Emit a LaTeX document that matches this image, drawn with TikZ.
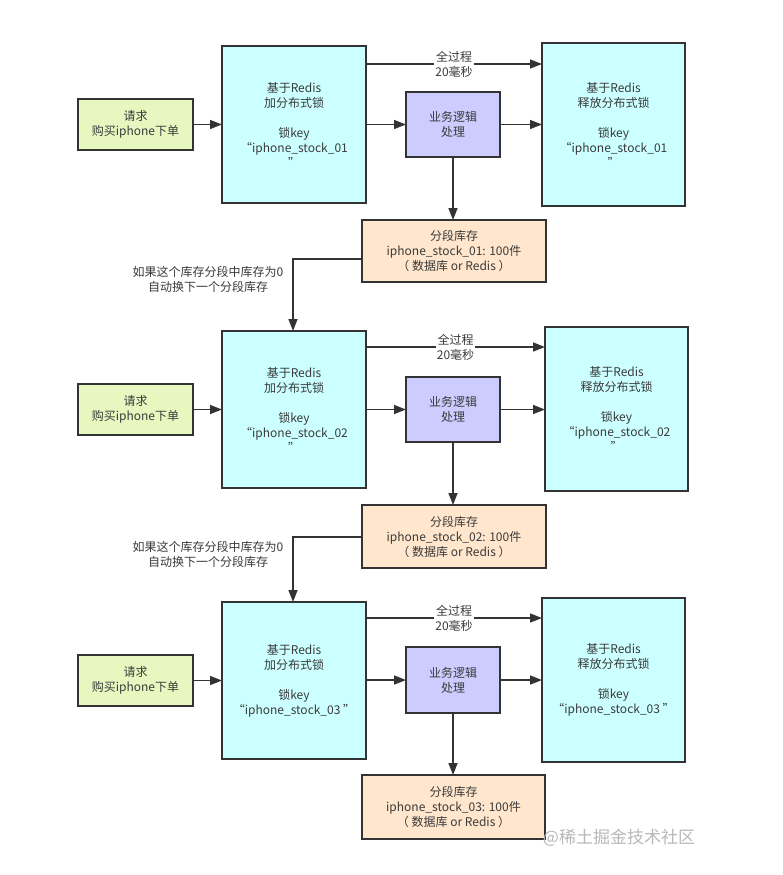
\documentclass[tikz,border=0pt]{standalone}
\usepackage{fontspec}
\setmainfont{Noto Sans CJK SC}
\usetikzlibrary{arrows.meta}
\definecolor{linec}{HTML}{333333}
\definecolor{txtc}{HTML}{3A3A3A}
\definecolor{reqc}{HTML}{E6F8C0}
\definecolor{lockc}{HTML}{CCFFFF}
\definecolor{bizc}{HTML}{CCCCFF}
\definecolor{stockc}{HTML}{FFE6CC}
\tikzset{
  box/.style={draw=linec, line width=1.6pt, inner sep=0pt, outer sep=0pt, align=center,
    text=txtc, font=\fontsize{12}{15}\selectfont},
  reqbox/.style={box, fill=reqc, minimum width=115pt, minimum height=51pt},
  lockbox/.style={box, fill=lockc, minimum width=144pt, minimum height=157pt},
  relbox/.style={box, fill=lockc, minimum width=143pt, minimum height=163pt},
  bizbox/.style={box, fill=bizc, minimum width=94pt, minimum height=65pt},
  stockbox/.style={box, fill=stockc, minimum width=184pt, minimum height=62pt},
  arr/.style={draw=linec, line width=1.6pt, -{Triangle[length=12pt,width=9pt]}},
  lbl/.style={text=txtc, font=\fontsize{12}{15}\selectfont, align=center, fill=white, inner sep=1pt},
  note/.style={text=txtc, font=\fontsize{12}{15}\selectfont, align=center, inner sep=0pt}
}
\begin{document}
\begin{tikzpicture}[x=1pt,y=-1pt]
\useasboundingbox[fill=white] (0,0) rectangle (783,875);

% ---------- block 1 ----------
\node[reqbox] (req1) at (135.5,124.5) {请求\\购买iphone下单};
\node[lockbox] (lock1) at (294,124.5) {基于Redis\\加分布式锁\\[15pt]锁key\\“iphone\_stock\_01\\”};
\node[bizbox] (biz1) at (453,124.5) {业务逻辑\\处理};
\node[relbox] (rel1) at (613.5,124.5) {基于Redis\\释放分布式锁\\[15pt]锁key\\“iphone\_stock\_01\\”};
\node[stockbox] (stock1) at (454,251) {分段库存\\iphone\_stock\_01: 100件\\（ 数据库 or Redis ）};
\coordinate (t1) at (0,64);
\draw[arr] (lock1.east |- t1) -- node[lbl] {全过程\\20毫秒} (rel1.west |- t1);
\draw[arr] (req1.east) -- (lock1.west);
\draw[arr] (lock1.east |- biz1.west) -- (biz1.west);
\draw[arr] (biz1.east) -- (rel1.west |- biz1.east);
\draw[arr] (biz1.south) -- (biz1.south |- stock1.north);

% ---------- block 2 ----------
\node[reqbox] (req2) at (135.5,409.5) {请求\\购买iphone下单};
\node[lockbox] (lock2) at (294,409.5) {基于Redis\\加分布式锁\\[15pt]锁key\\“iphone\_stock\_02\\”};
\node[bizbox] (biz2) at (453,409.5) {业务逻辑\\处理};
\node[relbox, minimum height=164pt] (rel2) at (616.5,409) {基于Redis\\释放分布式锁\\[15pt]锁key\\“iphone\_stock\_02\\”};
\node[stockbox, minimum height=63pt] (stock2) at (454,536.5) {分段库存\\iphone\_stock\_02: 100件\\（ 数据库 or Redis ）};
\coordinate (t2) at (0,347);
\draw[arr] (lock2.east |- t2) -- node[lbl] {全过程\\20毫秒} (rel2.west |- t2);
\draw[arr] (req2.east) -- (lock2.west);
\draw[arr] (lock2.east |- biz2.west) -- (biz2.west);
\draw[arr] (biz2.east) -- (rel2.west |- biz2.east);
\draw[arr] (biz2.south) -- (biz2.south |- stock2.north);

% ---------- block 3 ----------
\node[reqbox] (req3) at (135.5,680.5) {请求\\购买iphone下单};
\node[lockbox] (lock3) at (294,680.5) {基于Redis\\加分布式锁\\[15pt]锁key\\“iphone\_stock\_03 ”};
\node[bizbox, minimum height=66pt] (biz3) at (453,680) {业务逻辑\\处理};
\node[relbox, minimum height=164pt] (rel3) at (613.5,680) {基于Redis\\释放分布式锁\\[15pt]锁key\\“iphone\_stock\_03 ”};
\node[stockbox, minimum width=183pt, minimum height=64pt] (stock3) at (453.5,807) {分段库存\\iphone\_stock\_03: 100件\\（ 数据库 or Redis ）};
\coordinate (t3) at (0,618);
\draw[arr] (lock3.east |- t3) -- node[lbl] {全过程\\20毫秒} (rel3.west |- t3);
\draw[arr] (req3.east) -- (lock3.west);
\draw[arr] (lock3.east |- biz3.west) -- (biz3.west);
\draw[arr] (biz3.east) -- (rel3.west |- biz3.east);
\draw[arr] (biz3.south) -- (biz3.south |- stock3.north);

% ---------- links between blocks ----------
\coordinate (l1y) at (0,259);
\coordinate (l2y) at (0,537);
\coordinate (lx) at (293,0);
\draw[arr] (stock1.west |- l1y) -| (lx |- lock2.north);
\draw[arr] (stock2.west |- l2y) -| (lx |- lock3.north);
\node[note] (n1) at (208,279.5) {如果这个库存分段中库存为0\\自动换下一个分段库存};
\node[note] (n2) at (208,554.5) {如果这个库存分段中库存为0\\自动换下一个分段库存};

% watermark
\node[text=black!28, font=\fontsize{17}{19}\selectfont, inner sep=0pt] (wm) at (619,838) {@稀土掘金技术社区};
\end{tikzpicture}
\end{document}
